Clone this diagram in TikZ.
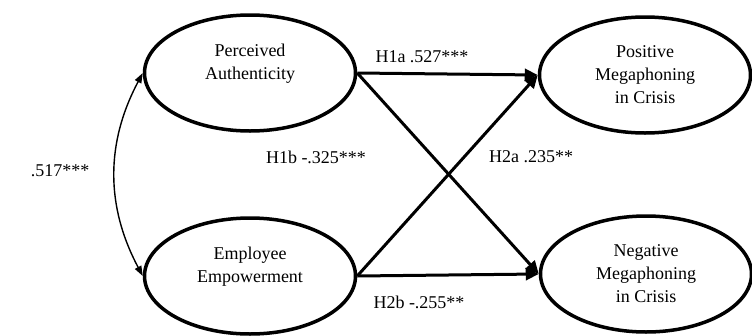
\documentclass[tikz,border=0pt]{standalone}
\usepackage{fontspec}
\setmainfont{Liberation Serif}
\usetikzlibrary{arrows.meta, positioning, shapes.geometric}

\begin{document}
\begin{tikzpicture}[x=1pt, y=-1pt,
    construct/.style={draw, ellipse, line width=3.5pt, minimum width=211pt, minimum height=116pt,
      inner sep=0pt, align=center, font=\fontsize{18}{23}\selectfont},
    effect/.style={line width=3pt, -{Triangle[length=13pt, width=12pt]}},
    corr/.style={line width=1.4pt, {Triangle[length=10pt, width=7pt]}-{Triangle[length=10pt, width=7pt]}},
    coef/.style={inner sep=1pt, font=\fontsize{18}{22}\selectfont}]
  % Canvas
  \useasboundingbox (0,0) rectangle (752,335);

  % Column positions
  \def\colL{250}
  \def\colR{645}

  % Constructs
  \node[construct] (auth) at (\colL,73) {Perceived\\Authenticity\\\mbox{}};
  \node[construct] (empow) at (\colL,276) {Employee\\Empowerment\\\mbox{}};
  \node[construct] (posmeg) at (\colR,75) {Positive\\Megaphoning\\in Crisis};
  \node[construct] (negmeg) at (\colR+1,274) {Negative\\Megaphoning\\in Crisis};

  % Paths
  \draw[effect] (auth.east) -- (posmeg.west);
  \draw[effect] (auth.east) -- (negmeg.west);
  \draw[effect] (empow.east) -- (posmeg.west);
  \draw[effect] (empow.east) -- (negmeg.west);

  % Correlation
  \draw[corr] (auth.west) to[bend right=28] (empow.west);

  % Coefficients
  \node[coef] (h1a) at (422,57) {H1a .527***};
  \node[coef] (h1b) at (316,157) {H1b -.325***};
  \node[coef] (h2a) at (531,157) {H2a .235**};
  \node[coef] (h2b) at (419,302) {H2b -.255**};
  \node[coef] (rho) at (60,171) {.517***};
\end{tikzpicture}
\end{document}
